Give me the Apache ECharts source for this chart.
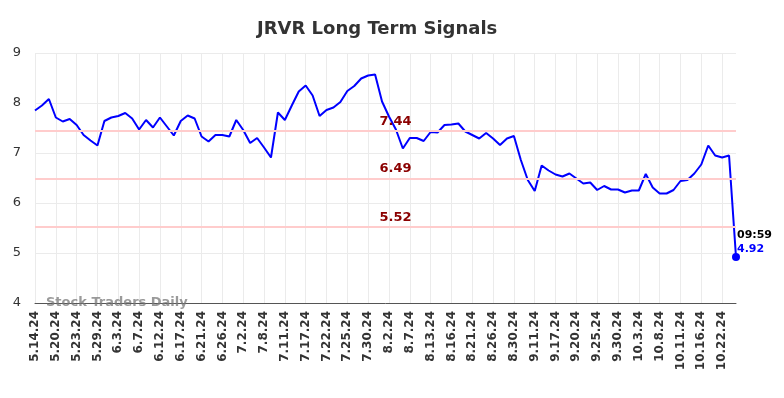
<!DOCTYPE html>
<html>
<head>
<meta charset="utf-8">
<script src="https://cdn.jsdelivr.net/npm/echarts@6/dist/echarts.min.js"></script>
<style>
  html, body { margin: 0; padding: 0; background: #fff; }
  #main { width: 784px; height: 398px; }
</style>
</head>
<body>
<div id="main"></div>
<script>
// labelled dates (one every 3 trading days)
const tickDates = ['5.14.24', '5.20.24', '5.23.24', '5.29.24', '6.3.24', '6.7.24', '6.12.24', '6.17.24',
  '6.21.24', '6.26.24', '7.2.24', '7.8.24', '7.11.24', '7.17.24', '7.22.24', '7.25.24', '7.30.24',
  '8.2.24', '8.7.24', '8.13.24', '8.16.24', '8.21.24', '8.26.24', '8.30.24', '9.11.24', '9.17.24',
  '9.20.24', '9.25.24', '9.30.24', '10.3.24', '10.8.24', '10.11.24', '10.16.24', '10.22.24'];

// closing prices
const prices = [
  7.85, 7.95, 8.08, 7.71, 7.63, 7.68, 7.56, 7.36, 7.25, 7.15,
  7.64, 7.71, 7.74, 7.80, 7.69, 7.47, 7.66, 7.51, 7.71, 7.53,
  7.35, 7.64, 7.75, 7.69, 7.33, 7.23, 7.36, 7.36, 7.33, 7.66,
  7.46, 7.20, 7.30, 7.11, 6.91, 7.81, 7.66, 7.95, 8.23, 8.35,
  8.15, 7.74, 7.86, 7.91, 8.02, 8.24, 8.34, 8.49, 8.55, 8.57,
  8.03, 7.73, 7.47, 7.09, 7.30, 7.30, 7.24, 7.42, 7.41, 7.56,
  7.57, 7.59, 7.43, 7.36, 7.29, 7.40, 7.29, 7.16, 7.29, 7.34,
  6.86, 6.46, 6.24, 6.75, 6.65, 6.57, 6.53, 6.59, 6.49, 6.39,
  6.41, 6.26, 6.34, 6.27, 6.27, 6.21, 6.25, 6.25, 6.58, 6.31,
  6.19, 6.19, 6.26, 6.44, 6.46, 6.59, 6.77, 7.15, 6.95, 6.91,
  6.95, 4.92
];

const signals = [7.44, 6.49, 5.52];
const lastTime = '09:59';

// category per point, label only on every third one
const categories = prices.map((_, i) => (i % 3 === 0 ? tickDates[i / 3] : ''));

const chart = echarts.init(document.getElementById('main'));

const lastIdx = prices.length - 1;

const option = {
  animation: false,
  title: {
    text: 'JRVR Long Term Signals',
    left: 252,
    top: 15,
    textStyle: {
      fontFamily: 'DejaVu Sans',
      fontSize: 18,
      fontWeight: 'bold',
      color: '#333'
    }
  },
  grid: {
    left: 35,
    right: 48,
    top: 53,
    bottom: 95
  },
  xAxis: {
    type: 'category',
    data: categories,
    boundaryGap: false,
    axisLine: { lineStyle: { color: '#555', width: 1 } },
    axisTick: { show: false },
    axisLabel: {
      interval: 2,
      rotate: 90,
      fontFamily: 'DejaVu Sans',
      fontSize: 12,
      fontWeight: 'bold',
      color: '#333',
      margin: 8
    },
    splitLine: {
      show: true,
      interval: 2,
      lineStyle: { color: '#ebebeb', width: 1 }
    }
  },
  yAxis: {
    type: 'value',
    min: 4,
    max: 9,
    interval: 1,
    axisLine: { show: false },
    axisTick: { show: false },
    axisLabel: {
      fontFamily: 'DejaVu Sans',
      fontSize: 13,
      color: '#333',
      margin: 14
    },
    splitLine: { lineStyle: { color: '#ebebeb', width: 1 } }
  },
  series: [{
    type: 'line',
    data: prices,
    showSymbol: false,
    lineStyle: { color: '#0000ff', width: 2 },
    itemStyle: { color: '#0000ff' },
    markLine: {
      silent: true,
      symbol: 'none',
      lineStyle: { color: '#ffcccc', width: 2, type: 'solid' },
      label: {
        position: 'middle',
        distance: 3,
        padding: [0, 0, 0, 20],
        formatter: p => p.value.toFixed(2),
        fontFamily: 'DejaVu Sans',
        fontSize: 13,
        fontWeight: 'bold',
        color: '#8b0000'
      },
      data: signals.map(v => ({ yAxis: v }))
    },
    markPoint: {
      symbol: 'circle',
      symbolSize: 8,
      itemStyle: { color: '#0000ff' },
      label: {
        show: true,
        position: [5, -25],
        formatter: p => '{t|' + lastTime + '}\n{v|' + p.value.toFixed(2) + '}',
        rich: {
          t: { fontFamily: 'DejaVu Sans', fontSize: 11, fontWeight: 'bold', color: '#000', lineHeight: 14, align: 'left' },
          v: { fontFamily: 'DejaVu Sans', fontSize: 11, fontWeight: 'bold', color: '#0000ff', lineHeight: 14, align: 'left' }
        }
      },
      data: [{ coord: [lastIdx, prices[lastIdx]], value: prices[lastIdx] }]
    }
  }],
  graphic: [{
    type: 'text',
    left: 46,
    top: 296,
    z: 10,
    style: {
      text: 'Stock Traders Daily',
      fontFamily: 'DejaVu Sans',
      fontSize: 13,
      fontWeight: 'bold',
      fill: 'rgba(120,120,120,0.75)'
    }
  }]
};

chart.setOption(option);
</script>
</body>
</html>
